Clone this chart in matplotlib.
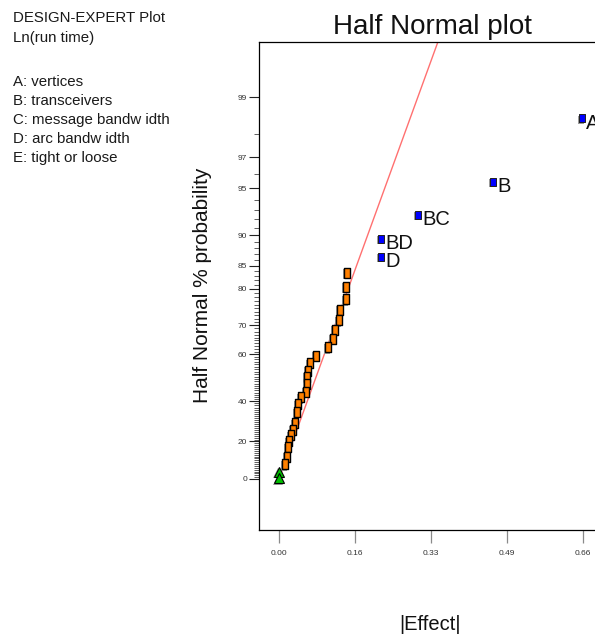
import math
from statistics import NormalDist

import matplotlib
matplotlib.use("Agg")
import matplotlib.pyplot as plt
import matplotlib.transforms as mtransforms
import numpy as np

plt.rcParams['font.family'] = ['Liberation Sans', 'DejaVu Sans']

# Text block in the upper left corner
header_lines = ["DESIGN-EXPERT Plot", "Ln(run time)"]
factor_lines = ["A: vertices",
                "B: transceivers",
                "C: message bandw idth",
                "D: arc bandw idth",
                "E: tight or loose"]

# Significant effects (blue squares)
effect_names = ["A", "B", "BC", "BD", "D"]
effect_size = [0.657, 0.465, 0.302, 0.221, 0.221]
effect_prob = [98.5, 95.5, 92.5, 89.5, 86.6]

# Error estimates (orange squares)
error_size = [0.147, 0.146, 0.145, 0.133, 0.131, 0.122, 0.118, 0.107,
              0.081, 0.067, 0.064, 0.061, 0.060, 0.059, 0.048, 0.041,
              0.040, 0.035, 0.031, 0.026, 0.022, 0.020, 0.017, 0.013]
error_prob = [83.6, 80.5, 77.5, 74.6, 71.5, 68.5, 65.5, 62.5,
              59.4, 56.5, 53.5, 50.9, 47.8, 44.4, 41.8, 38.6,
              34.7, 29.3, 25.9, 23.3, 20.2, 16.9, 12.0, 7.9]

# Aliased / zero terms (green triangles)
zero_size = [0.0, 0.0]
zero_prob = [3.9, 0.5]

# Reference line through the small effects
fit_size = [0.0, 0.36]
fit_prob = [0.0, 99.79]

y_major = [0, 20, 40, 60, 70, 80, 85, 90, 95, 97, 99]
y_minor = [v for v in range(1, 99) if v not in y_major]
x_ticks = [0.0, 0.165, 0.33, 0.495, 0.66]
x_tick_labels = ["0.00", "0.16", "0.33", "0.49", "0.66"]

_nd = NormalDist()


def p_to_z(p):
    """Half normal % probability -> normal quantile (signed, so it also works below 0)."""
    p = np.clip(np.asarray(p, dtype=float), -99.99999, 99.99999)
    return np.vectorize(lambda v: _nd.inv_cdf(0.5 + v / 200.0) if np.isfinite(v) else v,
                        otypes=[float])(p)


def z_to_p(z):
    z = np.asarray(z, dtype=float)
    return np.vectorize(lambda v: math.erf(v / math.sqrt(2.0)) * 100.0 if np.isfinite(v) else v,
                        otypes=[float])(z)


W, H = 595, 634
fig = plt.figure(figsize=(W / 100, H / 100), dpi=100)
# axes runs past the right border of the picture, like the original export
ax = fig.add_axes([259 / W, 1 - 530 / H, 344 / W, 488 / H])
ax.set_yscale('function', functions=(p_to_z, z_to_p))
ax.set_xlim(-0.0434, 0.7034)
ax.set_ylim(float(z_to_p(-0.344)), float(z_to_p(2.947)))

# red reference line
ax.plot(fit_size, fit_prob, color='#ff7070', linewidth=1.0, zorder=2)

rect = [(-0.37, -0.5), (0.37, -0.5), (0.37, 0.5), (-0.37, 0.5), (-0.37, -0.5)]
shadow = mtransforms.offset_copy(ax.transData, fig=fig, x=-1.0, y=-1.5, units='dots')

# gray drop shadows first
for xs, ys, mk, ms in [(error_size, error_prob, rect, 6.6),
                       (effect_size, effect_prob, rect, 6.4),
                       (zero_size, zero_prob, '^', 7.5)]:
    ax.plot(xs, ys, linestyle='none', marker=mk, markersize=ms, color='#9a9a9a',
            markeredgewidth=0, transform=shadow, zorder=3)

ax.plot(error_size, error_prob, linestyle='none', marker=rect, markersize=6.6,
        markerfacecolor='#ff8000', markeredgecolor='black', markeredgewidth=1.0, zorder=4)
ax.plot(effect_size, effect_prob, linestyle='none', marker=rect, markersize=6.4,
        markerfacecolor='#0000ff', markeredgecolor='#202020', markeredgewidth=0.7, zorder=4)
ax.plot(zero_size, zero_prob, linestyle='none', marker='^', markersize=7.5,
        markerfacecolor='#00c000', markeredgecolor='black', markeredgewidth=0.8, zorder=4)

for name, x, y in zip(effect_names, effect_size, effect_prob):
    ax.annotate(name, (x, y), xytext=(3.2, -3.6), textcoords='offset points',
                ha='left', va='center', fontsize=14.5, color='#111111', zorder=5)

# axes styling
for side in ['left', 'top', 'bottom', 'right']:
    ax.spines[side].set_linewidth(0.9)
    ax.spines[side].set_color('black')

ax.set_yticks(y_major)
ax.set_yticks(y_minor, minor=True)
ax.set_yticklabels([str(v) for v in y_major])
ax.tick_params(axis='y', which='major', direction='out', length=7.2, width=0.8,
               color='#222222', labelsize=6, labelcolor='#333333', pad=1.5)
ax.tick_params(axis='y', which='minor', direction='out', length=3.6, width=0.6,
               color='#444444')

ax.set_xticks(x_ticks)
ax.set_xticklabels(x_tick_labels)
ax.xaxis.set_minor_locator(matplotlib.ticker.NullLocator())
ax.tick_params(axis='x', direction='out', length=9.4, width=0.9, color='#8a8a8a',
               labelsize=6, labelcolor='#333333', pad=5)

# titles and labels are placed on the figure
fig.text(432 / W, 1 - 34.5 / H, "Half Normal plot", ha='center', va='baseline',
         fontsize=20, color='#111111')
fig.text(202 / W, 1 - 285 / H, "Half Normal % probability", ha='center', va='center',
         rotation=90, fontsize=15, color='#111111')
fig.text(430 / W, 1 - 630 / H, "|Effect|", ha='center', va='baseline',
         fontsize=14.5, color='#111111')

for i, line in enumerate(header_lines):
    fig.text(13 / W, 1 - (22.3 + 20 * i) / H, line, ha='left', va='baseline',
             fontsize=10.8, color='#1a1a1a')
for i, line in enumerate(factor_lines):
    fig.text(13 / W, 1 - (85.7 + 19 * i) / H, line, ha='left', va='baseline',
             fontsize=10.8, color='#1a1a1a')

fig.savefig("out.png", dpi=100)
plt.close(fig)
